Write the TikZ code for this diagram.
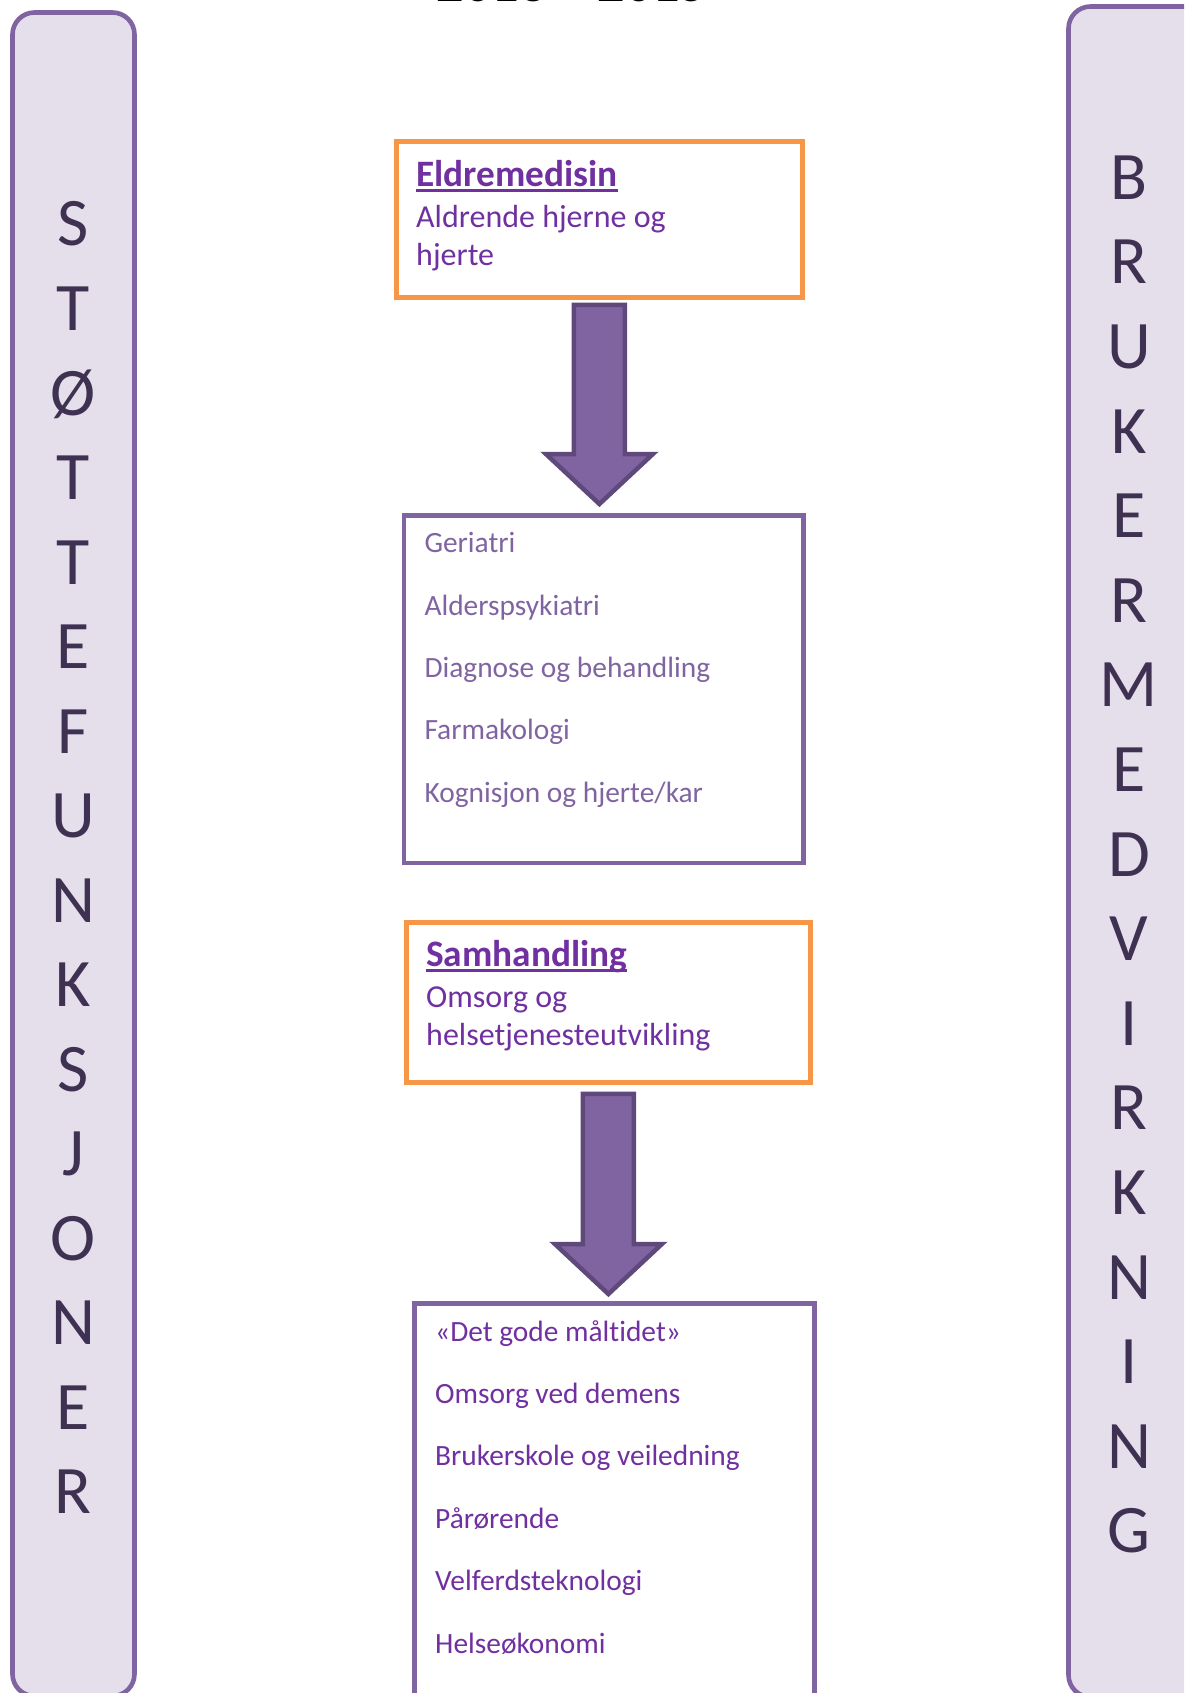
\documentclass[tikz,border=0pt]{standalone}
\usepackage{fontspec}
\setmainfont{Carlito}[Ligatures=NoCommon]
\usetikzlibrary{calc}
\definecolor{barfill}{HTML}{E5DFEC}
\definecolor{barline}{HTML}{8064A2}
\definecolor{letterc}{HTML}{3F3151}
\definecolor{orangec}{HTML}{F79646}
\definecolor{deeppurple}{HTML}{7030A0}
\definecolor{softpurple}{HTML}{8064A2}
\definecolor{arrowline}{HTML}{5F497A}
\newcommand\titleul[1]{\setbox0\hbox{#1}\rlap{\color{deeppurple}\rule[-5.5pt]{\wd0}{3pt}}\box0}
\newcommand\blockarr[2]{%
  \draw[blockarrow] let \p1=(#1), \p2=(#2) in
    (\x1-25.5pt,\y1) -- (\x1+25.5pt,\y1) -- (\x1+25.5pt,\y2+50pt) -- (\x1+53.5pt,\y2+50pt)
    -- (\x1,\y2) -- (\x1-53.5pt,\y2+50pt) -- (\x1-25.5pt,\y2+50pt) -- cycle;}
\begin{document}
\begin{tikzpicture}[x=1pt,y=-1pt,
  sidebar/.style={draw=barline, fill=barfill, line width=4.6pt, rounded corners=22pt},
  bigletter/.style={anchor=base, inner sep=0pt, text=letterc, font=\fontsize{68}{68}\selectfont},
  orangebox/.style={draw=orangec, line width=4.8pt, anchor=north west, inner sep=0pt},
  listbox/.style={draw=barline, line width=4.8pt, anchor=north west, inner sep=0pt},
  headtext/.style={anchor=base west, inner sep=0pt, text=deeppurple, font=\bfseries\fontsize{37.3}{37.3}\selectfont},
  subtext/.style={anchor=base west, inner sep=0pt, text=deeppurple, font=\fontsize{32}{32}\selectfont},
  itemtext/.style={anchor=base west, inner sep=0pt, font=\fontsize{29.4}{29.4}\selectfont},
  blockarrow/.style={fill=softpurple, draw=arrowline, line width=4.5pt, line join=miter},
  titletext/.style={anchor=base, inner sep=0pt, text=black, font=\bfseries\fontsize{54}{54}\selectfont}
]
\useasboundingbox (0,0) rectangle (1184,1693);
\clip (0,0) rectangle (1184,1693);

% title (cut off at top, as in the reference)
\node[titletext] (title) at (572,2) {2013 – 2015};

% side bars
\draw[sidebar] (12.5,12.5) rectangle (134.5,1696);
\draw[sidebar] (1068.5,6.5) rectangle (1206,1697);

\foreach \l [count=\i from 0] in {S,T,Ø,T,T,E,F,U,N,K,S,J,O,N,E,R}
  \node[bigletter] (L\i) at (73,246+84.5*\i) {\l};
\foreach \l [count=\i from 0] in {B,R,U,K,E,R,M,E,D,V,I,R,K,N,I,N,G}
  \node[bigletter] (R\i) at (1129,199.3+84.6*\i) {\l};

% boxes
\node[orangebox, minimum width=406pt, minimum height=156pt] (b1) at (394,139) {};
\node[listbox, minimum width=399.5pt, minimum height=347.5pt] (b2) at (401.5,513) {};
\node[orangebox, minimum width=404pt, minimum height=160pt] (b3) at (404,920) {};
\node[listbox, minimum width=400pt, minimum height=420pt] (b4) at (412,1301) {};

% box 1 text
\node[headtext] (t1) at (416,186.7) {\titleul{Eldremedisin}};
\node[subtext] (t1a) at (416,227.3) {Aldrende hjerne og};
\node[subtext] (t1b) at (416,265.7) {hjerte};

% box 2 text
\foreach \s [count=\i from 0] in {Geriatri,Alderspsykiatri,Diagnose og behandling,Farmakologi,Kognisjon og hjerte/kar}
  \node[itemtext, text=softpurple] (g\i) at (424.3,552.7+62.4*\i) {\s};

% box 3 text
\node[headtext] (t3) at (426,966.7) {\titleul{Samhandling}};
\node[subtext] (t3a) at (426,1007.3) {Omsorg og};
\node[subtext] (t3b) at (426,1045.7) {helsetjenesteutvikling};

% box 4 text
\foreach \s [count=\i from 0] in {«Det gode måltidet»,Omsorg ved demens,Brukerskole og veiledning,Pårørende,Velferdsteknologi,Helseøkonomi}
  \node[itemtext, text=deeppurple] (h\i) at (435,1341+62.4*\i) {\s};

% arrows
\coordinate (a1top) at ($(b1.south)+(0,5)$);
\coordinate (a1tip) at ($(b2.north)+(0,-9)$);
\blockarr{a1top}{a1tip}
\coordinate (a2top) at ($(b3.south)+(0,9)$);
\coordinate (a2tip) at ($(b4.north)+(0,-7)$);
\blockarr{a2top}{a2tip}
\end{tikzpicture}
\end{document}
